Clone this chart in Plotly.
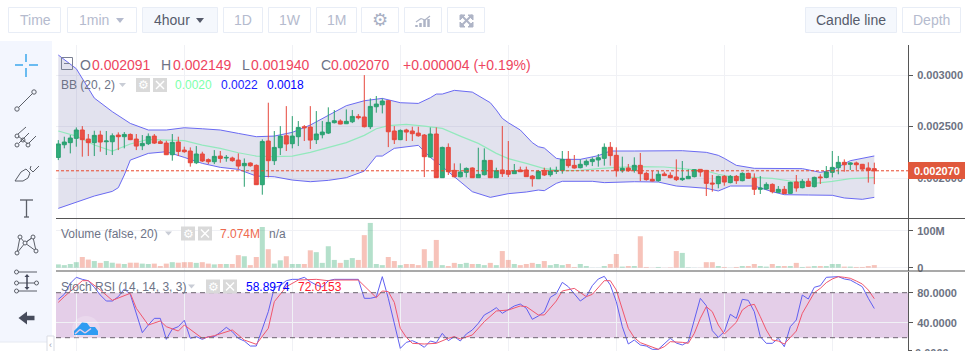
import plotly.graph_objects as go

W, H = 971, 351

# ---------- data (prices in millionths) ----------
open_u = [2200,2323,2343,2385,2466,2378,2343,2417,2352,2352,
2417,2401,2423,2378,2313,2333,2407,2352,2339,2226,
2349,2271,2262,2148,2233,2178,2158,2213,2194,2194,
2174,2119,2145,2123,1935,2359,2168,2294,2410,2333,
2401,2498,2495,2372,2420,2436,2537,2553,2527,2546,
2598,2592,2498,2692,2711,2750,2456,2372,2466,2456,
2436,2417,2203,2427,2003,2297,2074,2012,2055,2097,
2003,2032,2171,2003,2078,2071,2042,2078,2078,2019,
1993,2074,2032,2065,2074,2181,2123,2100,2129,2159,
2175,2191,2298,2220,2071,2097,2074,2123,2045,1987,
1974,2039,2026,2010,1984,1993,2013,2084,2074,1951,
1945,2016,1955,2016,1974,2045,1997,1890,1893,1938,
1861,1890,1851,1961,1906,1968,1916,2010,2006,2055,
2100,2152,2133,2146,2133,2097,2091]
high_u = [2368,2401,2417,2491,2504,2427,2459,2459,2456,2433,
2443,2446,2433,2427,2417,2433,2427,2368,2362,2427,
2401,2304,2297,2310,2255,2190,2271,2262,2223,2207,
2239,2190,2152,2132,2375,2731,2456,2504,2698,2601,
2553,2514,2698,2650,2553,2686,2660,2569,2666,2660,
2621,2999,2773,2796,2773,2757,2504,2472,2478,2498,
2498,2427,2491,2491,2304,2336,2142,2142,2103,2103,
2294,2288,2174,2100,2505,2359,2136,2110,2110,2029,
2078,2100,2103,2110,2262,2262,2223,2181,2181,2201,
2233,2336,2349,2298,2207,2136,2201,2243,2061,2068,
2068,2061,2055,2181,2165,2084,2084,2087,2078,2029,
2023,2029,2029,2029,2055,2052,2045,2019,1958,1948,
1922,1922,1964,2029,1990,1997,2013,2036,2116,2262,
2214,2181,2152,2159,2136,2152,2149]
low_u = [2174,2288,2239,2304,2207,2213,2213,2255,2223,2223,
2271,2288,2368,2271,2271,2320,2330,2330,2223,2168,
2213,2245,2110,2135,2155,2135,2135,2148,2158,2158,
2084,1915,2110,1932,1838,2006,2126,2223,2262,2288,
2310,2359,2281,2330,2385,2427,2530,2521,2524,2533,
2569,2491,2475,2634,2627,2300,2330,2368,2359,2359,
2401,2009,2197,2003,2000,2029,2006,2006,2006,2003,
2003,2025,2003,2003,2010,2010,2039,2058,2010,1916,
1990,2019,2013,2039,2042,2100,2091,2094,2110,2116,
2110,2120,2120,2013,2052,2061,2052,1971,1974,1968,
1964,2019,1997,1971,1971,1990,2006,2013,1825,1867,
1900,1925,1948,1942,1968,1993,1835,1845,1887,1851,
1858,1845,1848,1867,1900,1913,1909,1942,1997,2006,
2036,2061,2078,2078,2078,1955,1940]
close_u = [2330,2349,2388,2466,2372,2343,2414,2349,2359,2410,
2401,2423,2372,2310,2336,2404,2339,2336,2226,2346,
2258,2255,2148,2233,2165,2158,2210,2190,2200,2168,
2116,2142,2119,1935,2355,2168,2297,2407,2330,2407,
2491,2488,2368,2427,2446,2540,2556,2524,2550,2598,
2585,2498,2695,2718,2747,2449,2372,2462,2446,2430,
2410,2207,2427,2003,2297,2061,2012,2058,2093,2003,
2035,2171,2003,2071,2042,2036,2071,2061,2013,1993,
2065,2029,2068,2071,2181,2120,2097,2133,2162,2181,
2197,2298,2217,2071,2094,2071,2123,2042,1984,1971,
2036,2023,2003,1984,1997,2016,2081,2058,1948,1942,
2016,1961,2016,1974,2045,1997,1890,1903,1938,1867,
1890,1848,1958,1903,1968,1919,2006,2003,2058,2103,
2152,2129,2146,2129,2087,2074,2070]

bb_upper_idx = [0,3,6,9,12,15,18,21,24,27,30,33,36,39,42,45,48,51,54,57,60,62,63,64,66,69,72,73,74,75,77,79,80,81,83,84,87,90,92,96,100,104,108,110,111,113,116,119,124,127,129,132,134,136]
bb_upper = [3194,3061,2776,2644,2530,2466,2466,2488,2478,2466,2433,2401,2407,2443,2514,2611,2702,2750,2773,2731,2724,2779,2815,2815,2851,2834,2731,2660,2579,2537,2466,2343,2304,2291,2191,2181,2181,2217,2262,2262,2262,2265,2249,2220,2191,2123,2094,2091,2091,2055,2078,2168,2188,2214]
bb_lower_idx = [0,3,6,9,10,11,12,15,18,21,24,27,30,33,36,39,42,45,48,51,52,53,54,56,60,62,64,66,69,72,73,75,78,80,81,83,84,89,91,96,100,103,108,110,112,116,119,121,125,129,131,134,136]
bb_lower = [1705,1763,1825,1870,1906,2029,2174,2239,2255,2200,2142,2103,2084,2019,2012,1980,1964,1977,2003,2067,2142,2213,2213,2288,2317,2200,2110,2012,1867,1812,1822,1848,1864,1883,1877,1948,1968,1968,1955,1964,1961,1922,1900,1874,1922,1922,1867,1838,1835,1832,1806,1793,1812]
bb_mid_idx = [0,3,6,9,12,15,18,21,24,27,30,33,36,39,42,45,48,51,53,55,58,61,64,67,70,73,75,78,81,84,87,90,93,97,101,104,108,110,112,116,119,122,126,129,132,136]
bb_mid = [2456,2407,2320,2262,2330,2375,2368,2362,2320,2288,2245,2213,2207,2213,2249,2297,2343,2414,2478,2508,2520,2504,2482,2407,2336,2239,2188,2142,2091,2071,2074,2091,2103,2110,2107,2091,2068,2036,2013,2006,1997,1971,1948,1968,1993,2003]

volume_m = [9,7,10,15,29,22,18,13,18,13.5,11,10,13.5,13.5,11,10,11,4.5,11,15,
13.5,15,15,13,15,11,9,10,10,10,34,31,7,29,110,50,11,20,31,10,
10,10,47,42,13,58,21,13,21,26,21,88,121,10,7,29,18,7,10,10,
7,50,18,75,7,4.5,13,10,13,10,10,7,13,7,45,21,10,7,10,13,
10,18,7,10,7,10,2,10,4.5,0.3,0.3,4.5,10,37,3,4.5,4.5,85,2,0.3,
2,0.3,1,45,40,1,0.3,0.3,15,15,4.5,2,0.3,2,4.5,4.5,10,4.5,3,10,
4.5,4.5,4.5,13,2,3,4.5,4.5,4.5,10,10,3,3,2,2,4.5,7.074]

stoch_k = [71.1,77.8,92.5,100.5,97.8,96,87.2,76.9,68.9,68.9,74.7,84.9,77.8,52.5,26.7,36.9,45.8,45.8,17.8,31.6,
34.7,43.2,19.2,21.4,17.8,21.4,21.4,27.2,33.8,28,19.2,15.6,8.9,8.9,32.5,54.7,86.7,89.4,96,97.8,
97.8,100.5,94.7,90.3,87.6,96,97.8,97.8,97.8,97.8,97.8,72.5,72.5,74.3,101.4,72.5,36.9,5.8,13.8,16,
12.5,7.2,15.6,13.4,25.8,16,21.4,15.6,24.9,30.3,39.2,50.3,54.7,60,52.5,56.9,62.3,64.9,59.2,44.5,
48.9,54.7,73.8,78.7,93.8,88,77.8,68.9,74.7,89.4,98.3,101.8,90.3,68,34.7,11.6,16.9,10.3,8.9,4.5,
4.5,12.5,19.2,12.9,10.3,14.7,43.6,72.5,62.7,29.4,20.5,28,51.2,45.8,71.2,69.8,54.7,21.4,12.5,12.5,
19.2,8,34.7,43.6,76.9,71.6,87.2,89.4,100.5,100.5,101.4,98.3,96.9,92.5,88,72.5,58.8974]
stoch_d_idx = [0,1,4,5,7,9,12,13,15,17,18,20,21,23,24,26,29,31,33,35,36,38,40,43,45,46,50,53,54,55,56,57,58,59,61,63,65,66,67,69,70,71,73,75,77,78,80,81,83,84,86,88,89,91,92,93,95,96,97,98,99,100,101,102,104,105,106,107,108,109,110,111,113,114,115,116,117,118,119,120,121,123,124,125,126,127,128,129,130,131,132,133,134,135,136]
stoch_d = [67.1,74.7,96,96,83.6,69.8,79.2,59.2,36.9,42.3,34.7,28.9,36.9,25.8,19.2,22.7,30.3,16.9,11.2,32.5,68,88,96.9,97.8,96,96.9,96.9,73.4,82.3,81.4,67.1,32.5,20.5,12.5,11.6,12.5,19.2,21.4,18.3,23.6,32.5,41.4,55.6,56.9,62.3,61.4,50.3,50.3,68.9,82.3,85.8,74.7,77.8,96,96,83.6,32.5,20,13.4,10.3,6.7,4.5,8,14.7,13.8,12.5,25.8,45.8,61.4,54.7,36.9,24.9,40.5,56.9,62.7,64.5,48,30.3,16.9,15.6,11.6,28.9,52.5,65.8,80,85.8,93.4,98.3,101.4,100.5,99.2,95.6,91.6,83.6,72.0153]

grid_x = [3, 21, 39, 57, 75, 93, 111, 129]
price_ticks = [0.003, 0.0025, 0.002]
price_labels = ["0.003000", "0.002500", "0.002000"]
vol_ticks = [0, 100]
vol_labels = ["0", "100M"]
rsi_ticks = [40, 80]
rsi_labels = ["40.0000", "80.0000"]
last_price = 0.00207

# ---------- styling ----------
GREEN, GREEN_F = "#2a9f70", "#30ad79"
RED, RED_F = "#e6483c", "#ea5047"
GRID = "#f0f1f5"
AXIS = "#565656"
TICK = "#6c7282"
FONT = "Liberation Sans"
TXT_RED = "#ee4560"
GRAY_T = "#6d7386"

def fy(p): return 1 - p / H
def fx(p): return p / W

L, R = 56, 908
xrange_ = [(L - 58.3) / 6, (R - 58.3) / 6]

p = lambda a: [v / 1e6 for v in a]
n_all = list(range(len(open_u)))

fig = go.Figure()
band = dict(mode="lines", hoverinfo="skip", showlegend=False)
fig.add_trace(go.Scatter(x=bb_upper_idx, y=p(bb_upper), line=dict(color="#6a6af2", width=1), **band))
fig.add_trace(go.Scatter(x=bb_lower_idx, y=p(bb_lower), line=dict(color="#6a6af2", width=1),
                         fill="tonexty", fillcolor="rgba(112,112,170,0.2)", **band))
fig.add_trace(go.Scatter(x=bb_mid_idx, y=p(bb_mid), line=dict(color="#93e9bd", width=1.2), **band))
fig.add_trace(go.Candlestick(x=n_all, open=p(open_u), high=p(high_u), low=p(low_u), close=p(close_u),
    yaxis="y4", whiskerwidth=0, showlegend=False,
    increasing=dict(line=dict(color=GREEN, width=1), fillcolor=GREEN_F),
    decreasing=dict(line=dict(color=RED, width=1), fillcolor=RED_F)))
vol_colors = ["rgba(48,168,110,0.36)" if c >= o else "rgba(232,90,65,0.36)" for o, c in zip(open_u, close_u)]
fig.add_trace(go.Bar(x=n_all, y=volume_m, marker=dict(color=vol_colors, line=dict(width=0)),
                     xaxis="x2", yaxis="y2", showlegend=False))
fig.add_trace(go.Scatter(x=n_all, y=stoch_k, xaxis="x3", yaxis="y3", line=dict(color="#5f5ff0", width=1), **band))
fig.add_trace(go.Scatter(x=stoch_d_idx, y=stoch_d, xaxis="x3", yaxis="y3", line=dict(color="#f0566c", width=1), **band))

xcommon = dict(range=xrange_, domain=[fx(L), fx(R)], tickvals=grid_x, showticklabels=False, ticks="",
               showgrid=True, gridcolor=GRID, gridwidth=1, zeroline=False, showline=False, automargin=False)
ycommon = dict(side="right", showgrid=True, gridcolor=GRID, gridwidth=1, zeroline=False, showline=True,
               linecolor=AXIS, linewidth=1, ticks="outside", ticklen=4, tickcolor=AXIS, automargin=False,
               tickfont=dict(family=FONT, size=11, color=TICK, weight="bold"), ticklabelstandoff=2)
y_main = [0.003 - (218 - 75) * 0.0005 / 51.5, 0.003 + (75 - 45) * 0.0005 / 51.5]

fig.update_layout(
    width=W, height=H, margin=dict(l=0, r=0, t=0, b=0, pad=0, autoexpand=False), autosize=False,
    paper_bgcolor="white", plot_bgcolor="rgba(0,0,0,0)", bargap=0.16, boxgap=0.17, boxgroupgap=0.2, showlegend=False,
    hovermode=False,
    xaxis=dict(**xcommon, anchor="y", rangeslider=dict(visible=False)),
    xaxis2=dict(**xcommon, anchor="y2"),
    xaxis3=dict(**xcommon, anchor="y3"),
    yaxis=dict(**ycommon, domain=[fy(218), fy(45)], range=y_main, tickvals=price_ticks, ticktext=price_labels, anchor="x"),
    yaxis2=dict(**ycommon, domain=[fy(271), fy(219)], range=[-(271 - 267.7) / 0.37, (267.7 - 219) / 0.37],
                tickvals=vol_ticks, ticktext=vol_labels, anchor="x2"),
    yaxis3=dict(**ycommon, domain=[0, fy(271.5)], range=[80 - (351 - 292.7) / 0.75, 80 + (292.7 - 271.5) / 0.75],
                tickvals=rsi_ticks, ticktext=rsi_labels, anchor="x3"),
    yaxis4=dict(overlaying="y", range=y_main, visible=False, side="right", anchor="x"),
)

# ---------- decoration helpers (page furniture, pixel positions) ----------
shapes, notes = [], []

def rect(x0, y0, x1, y1, fill=None, line=None, w=1, layer="above"):
    shapes.append(dict(type="rect", xref="paper", yref="paper", x0=fx(x0), x1=fx(x1), y0=fy(y0), y1=fy(y1),
                       fillcolor=fill or "rgba(0,0,0,0)", line=dict(color=line or "rgba(0,0,0,0)", width=w if line else 0),
                       layer=layer))

def seg(x0, y0, x1, y1, color="#555", w=1, dash="solid"):
    shapes.append(dict(type="line", xref="paper", yref="paper", x0=fx(x0), x1=fx(x1), y0=fy(y0), y1=fy(y1),
                       line=dict(color=color, width=w, dash=dash)))

def circ(cx, cy, r, fill="rgba(0,0,0,0)", line="#555", w=1):
    shapes.append(dict(type="circle", xref="paper", yref="paper", x0=fx(cx - r), x1=fx(cx + r), y0=fy(cy - r), y1=fy(cy + r),
                       fillcolor=fill, line=dict(color=line, width=w)))

def poly(points, fill="rgba(0,0,0,0)", line=None, w=1):
    d = "M" + " L".join(f"{fx(a):.5f},{fy(b):.5f}" for a, b in points) + " Z"
    shapes.append(dict(type="path", xref="paper", yref="paper", path=d, fillcolor=fill,
                       line=dict(color=line or "rgba(0,0,0,0)", width=w if line else 0)))

def text(x, y, s, size=12, color=GRAY_T, anchor="left", family=FONT, weight=None):
    f = dict(family=family, size=size, color=color)
    if weight: f["weight"] = weight
    notes.append(dict(x=fx(x), y=fy(y), xref="paper", yref="paper", text=s, showarrow=False, xanchor=anchor,
                      yanchor="middle", font=f, borderpad=0, borderwidth=0))

# RSI band and guide lines
shapes.append(dict(type="rect", xref="x3", yref="y3", x0=xrange_[0], x1=xrange_[1], y0=20, y1=80,
                   fillcolor="#e4cee8", line=dict(width=0), layer="below"))
for level in (80, 20):
    shapes.append(dict(type="line", xref="x3", yref="y3", x0=xrange_[0], x1=xrange_[1], y0=level, y1=level,
                       line=dict(color="#6e6470", width=1, dash="5px,4px")))
# last price line
shapes.append(dict(type="line", xref="x", yref="y", x0=xrange_[0], x1=xrange_[1], y0=last_price, y1=last_price,
                   line=dict(color="#e8472c", width=1, dash="3px,2px")))
# pane separators
seg(L, 218.5, 965, 218.5, "#555555", 1.2)
seg(L, 271, 965, 271, "#555555", 1.2)
# last-price flag
rect(908, 162, 965, 179, fill="#e0583c")
text(936.5, 170.7, "0.002070", 11, "#ffffff", "center", weight="bold")
# clipped bottom tick
text(915, 353, "0.0000", 11, TICK, weight="bold")
seg(908, 350.5, 912, 350.5, AXIS)

# toolbar
for x0, x1, label, active in [(8.5, 60.5, "Time", 0), (67.5, 136.5, "1min", 0), (142.5, 217.5, "4hour", 1),
                              (223.5, 262.5, "1D", 0), (268.5, 310.5, "1W", 0), (316.5, 356.5, "1M", 0),
                              (361.5, 398.5, "", 0), (404.5, 441.5, "", 0), (447.5, 484.5, "", 0),
                              (805.5, 896.5, "Candle line", 1), (902.5, 960.5, "Depth", 0)]:
    rect(x0, 7.5, x1, 32.5, fill="#f5f8fd" if active else "#ffffff", line="#e8edf6")
    if label:
        tx = x0 + 11 if label in ("1min", "4hour", "Time") else (x0 + x1) / 2
        text(tx, 20.5, label, 14, "#565b6b" if active else "#b5bbce", "left" if label in ("1min", "4hour", "Time") else "center")
poly([(116, 18), (124, 18), (120, 23)], fill="#b5bbce")
poly([(196, 18), (204, 18), (200, 23)], fill="#565b6b")
text(380, 20, "⚙", 18, "#a9b0c4", "center", family="DejaVu Sans")
# chart icon
for bx, top in [(416.5, 25), (420.5, 23), (424.5, 20), (428.5, 19)]:
    seg(bx, 27, bx, top, "#aeb4c6", 2.5)
seg(416, 22, 421, 18.5, "#aeb4c6", 1.2); seg(421, 18.5, 425, 20, "#aeb4c6", 1.2); seg(425, 20, 430, 16, "#aeb4c6", 1.2)
# fullscreen icon
for (a, b), (c, d) in [((461, 15), (472, 26)), ((472, 15), (461, 26))]:
    seg(a, b, c, d, "#aeb4c6", 2)
for pts in [[(460, 15), (465, 15), (460, 20)], [(473, 15), (468, 15), (473, 20)], [(460, 27), (465, 27), (460, 22)], [(473, 27), (468, 27), (473, 22)]]:
    poly(pts, fill="#aeb4c6", line="#aeb4c6")

# sidebar
rect(0, 41, 52, 342, fill="#f3f6fe")
seg(0, 342, 47, 342, "#e6eaf2")
blue = "#1f9be9"
seg(15, 65, 23, 65, blue, 1.3); seg(29, 65, 38, 65, blue, 1.3); seg(26, 54, 26, 62, blue, 1.3); seg(26, 68, 26, 77, blue, 1.3)
ic = "#5b5f68"
seg(18.5, 107.5, 32.5, 93.5, ic); circ(17, 109, 2.2, line=ic); circ(34, 92, 2.2, line=ic)
seg(18, 134, 26, 127, ic); seg(19, 143, 29, 133, ic); seg(29, 143, 36, 136, ic); seg(18, 136, 28, 144, ic)
circ(17, 136, 2, line=ic); circ(17, 145, 2, line=ic); circ(23, 140, 2, line=ic); circ(28, 145, 2, line=ic)
poly([(15, 181), (21, 172), (26, 169), (30, 173), (28, 178), (23, 181)], line=ic)
seg(30, 169, 33, 172, ic); seg(33, 172, 39, 166, ic); seg(30, 169, 31, 166, ic)
seg(20, 200, 33, 200, ic, 1.3); seg(26.5, 200, 26.5, 217, ic, 1.3); seg(24, 217, 29, 217, ic, 1.3)
pts_n = [(20, 237), (33, 237), (25, 243), (36, 251), (17, 253)]
for i, j in [(0, 2), (2, 1), (1, 3), (2, 3), (2, 4), (0, 4), (1, 2)]:
    seg(*pts_n[i], *pts_n[j], ic)
for c in pts_n:
    circ(*c, 2, fill="#f3f6fe", line=ic)
seg(18, 272, 37, 272, ic); seg(18, 283, 35, 283, ic); seg(18, 291, 37, 291, ic)
circ(16.5, 272, 2, line=ic); circ(16.5, 283, 2, line=ic); circ(16.5, 291, 2, line=ic); circ(36.5, 283, 2, line=ic)
seg(27, 276, 27, 288, "#44485a", 1.5)
poly([(24.5, 277), (29.5, 277), (27, 274)], fill="#44485a"); poly([(24.5, 287), (29.5, 287), (27, 290)], fill="#44485a")
seg(25, 318, 34.5, 318, "#474c5c", 4.5)
poly([(18.5, 318), (27, 311.5), (27, 324.5)], fill="#474c5c")
# collapse handle
rect(47, 336, 54, 352, fill="#ffffff", line="#d9dce4")
text(50.5, 344.5, "‹", 9, "#9aa0ae", "center")

# logo
circ(86, 330, 14, fill="rgba(255,255,255,0.22)", line="rgba(0,0,0,0)")
poly([(74, 335), (74, 331), (78, 327), (82, 322.5), (87, 323), (90, 327), (95, 327), (98, 331), (98, 335)], fill="#2f9cf2")
seg(75, 334, 80, 329.5, "#e4cee8", 1.5); seg(80, 329.5, 85, 333, "#e4cee8", 1.5); seg(85, 333, 91, 328.5, "#e4cee8", 1.5)

# OHLC row
rect(61.5, 57.5, 72.5, 69.5, line="#7a8093")
seg(64, 63.5, 70, 63.5, "#7a8093")
for x, s, c in [(80, "O", GRAY_T), (92, "0.002091", TXT_RED), (161, "H", GRAY_T), (173, "0.002149", TXT_RED),
                (242, "L", GRAY_T), (251, "0.001940", TXT_RED), (321, "C", GRAY_T), (331, "0.002070", TXT_RED),
                (403, "+0.000004 (+0.19%)", TXT_RED)]:
    text(x, 65, s, 14, c)

def study(y, name, tx, box1, box2):
    text(61, y, name, 12, GRAY_T)
    poly([(tx, y - 2), (tx + 7, y - 2), (tx + 3.5, y + 2)], fill="#c9cdd6")
    for b in (box1, box2):
        rect(b, y - 7, b + 14, y + 7, fill="#d9d9d9")
    text(box1 + 7, y, "⚙", 12, "#ffffff", "center", family="DejaVu Sans")
    seg(box2 + 3, y - 4, box2 + 11, y + 4, "#ffffff", 1.5)
    seg(box2 + 3, y + 4, box2 + 11, y - 4, "#ffffff", 1.5)

study(85, "BB (20, 2)", 119, 136, 153)
text(175, 85, "0.0020", 12, "#7dffaa"); text(221, 85, "0.0022", 12, "#2020ff"); text(267, 85, "0.0018", 12, "#0000ff")
study(233.5, "Volume (false, 20)", 165, 181, 198)
text(220, 233.5, "7.074M", 12, "#ee6a4f"); text(269, 233.5, "n/a", 12, GRAY_T)
study(286.5, "Stoch RSI (14, 14, 3, 3)", 188, 206, 223)
text(246, 286.5, "58.8974", 12, "#0000ff"); text(298, 286.5, "72.0153", 12, "#ff1a2e")

fig.update_layout(shapes=shapes, annotations=notes)
fig.write_html("out.html", config=dict(displayModeBar=False),
               post_script="document.body.style.margin='0';document.body.style.overflow='hidden';")
